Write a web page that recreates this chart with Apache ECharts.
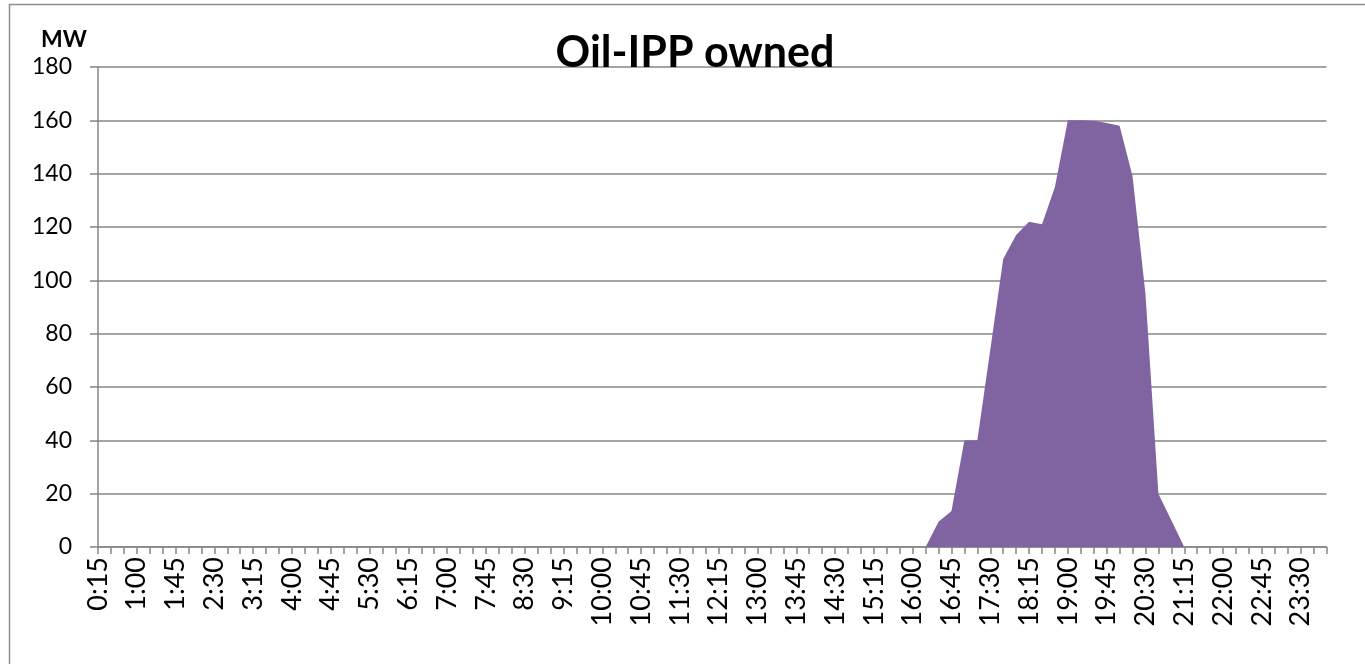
<!DOCTYPE html>
<html>
<head>
<meta charset="utf-8">
<script src="https://cdn.jsdelivr.net/npm/echarts@6/dist/echarts.min.js"></script>
<style>
html,body{margin:0;padding:0;background:#fff;}
#chart{width:1365px;height:664px;}
</style>
</head>
<body>
<div id="chart"></div>
<script>
var titleText = 'Oil-IPP owned';
var unitText = 'MW';
var categories = [
'0:15','0:30','0:45','1:00','1:15','1:30','1:45','2:00','2:15','2:30','2:45','3:00',
'3:15','3:30','3:45','4:00','4:15','4:30','4:45','5:00','5:15','5:30','5:45','6:00',
'6:15','6:30','6:45','7:00','7:15','7:30','7:45','8:00','8:15','8:30','8:45','9:00',
'9:15','9:30','9:45','10:00','10:15','10:30','10:45','11:00','11:15','11:30','11:45','12:00',
'12:15','12:30','12:45','13:00','13:15','13:30','13:45','14:00','14:15','14:30','14:45','15:00',
'15:15','15:30','15:45','16:00','16:15','16:30','16:45','17:00','17:15','17:30','17:45','18:00',
'18:15','18:30','18:45','19:00','19:15','19:30','19:45','20:00','20:15','20:30','20:45','21:00',
'21:15','21:30','21:45','22:00','22:15','22:30','22:45','23:00','23:15','23:30','23:45','0:00'
];
var oilIppOwned = [
0,0,0,0,0,0,0,0,0,0,0,0,
0,0,0,0,0,0,0,0,0,0,0,0,
0,0,0,0,0,0,0,0,0,0,0,0,
0,0,0,0,0,0,0,0,0,0,0,0,
0,0,0,0,0,0,0,0,0,0,0,0,
0,0,0,0,0,9.5,13.5,40,40,74,108,117,
122,121,135,160,160,159.8,159,158,139,95,20,10,
0,0,0,0,0,0,0,0,0,0,0,0
];
var yTicks = {min: 0, max: 180, step: 20};

var axisGray = '#868686';
var chart = echarts.init(document.getElementById('chart'));
chart.setOption({
  backgroundColor: '#ffffff',
  animation: false,
  graphic: [{
    type: 'rect',
    shape: {x: 9.5, y: 4.5, width: 1400, height: 700},
    style: {fill: 'none', stroke: '#8c8c8c', lineWidth: 1.5},
    silent: true
  }],
  title: [{
    text: titleText,
    left: 690,
    top: 27,
    textAlign: 'center',
    textStyle: {fontFamily: 'Lato', fontWeight: 'bold', fontSize: 43, color: '#000'}
  }, {
    text: unitText,
    left: 36,
    top: 23,
    textStyle: {fontFamily: 'Lato', fontWeight: 'bold', fontSize: 23, color: '#000'}
  }],
  grid: {left: 98, right: 38.5, top: 67, bottom: 117, containLabel: false},
  xAxis: {
    type: 'category',
    data: categories,
    boundaryGap: false,
    axisLine: {show: true, lineStyle: {color: axisGray, width: 1.5}},
    axisTick: {show: true, interval: 0, length: 7, lineStyle: {color: axisGray, width: 1.5}},
    axisLabel: {interval: 2, rotate: 90, margin: 10, color: '#000', fontFamily: 'Lato', fontSize: 27},
    splitLine: {show: false}
  },
  yAxis: {
    type: 'value',
    min: yTicks.min,
    max: yTicks.max,
    interval: yTicks.step,
    axisLine: {show: true, lineStyle: {color: axisGray, width: 1.5}},
    axisTick: {show: true, length: 8, lineStyle: {color: axisGray, width: 1.5}},
    axisLabel: {margin: 26, color: '#000', fontFamily: 'Lato', fontSize: 23},
    splitLine: {show: true, lineStyle: {color: axisGray, width: 1.5}}
  },
  series: [{
    name: titleText,
    type: 'line',
    data: oilIppOwned,
    symbol: 'none',
    lineStyle: {width: 0, color: '#8064A2'},
    itemStyle: {color: '#8064A2'},
    areaStyle: {color: '#8064A2', opacity: 1}
  }]
});
</script>
</body>
</html>
